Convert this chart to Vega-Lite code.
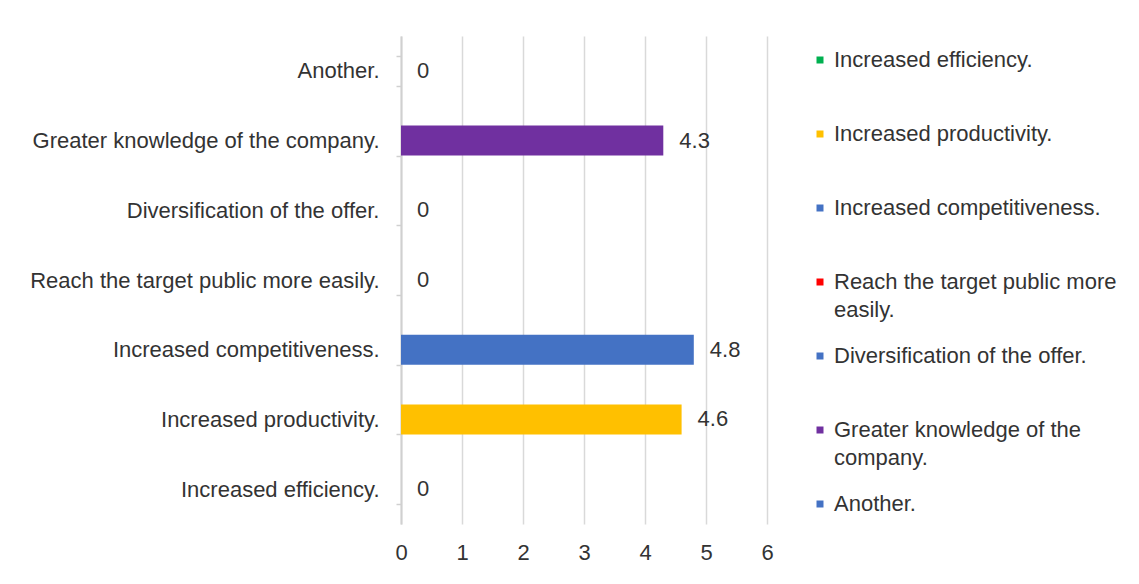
{
  "$schema": "https://vega.github.io/schema/vega-lite/v6.json",
  "width": 366,
  "height": 488,
  "autosize": "none",
  "padding": {"left": 401, "top": 36, "right": 372, "bottom": 60},
  "background": "white",
  "config": {
    "view": {"stroke": null},
    "font": "Liberation Sans",
    "axis": {"labelFont": "Liberation Sans", "labelColor": "#333333", "labelFontSize": 22},
    "style": {"guide-label": {"lineHeight": 28}}
  },
  "data": {
    "values": [
      {"category": "Increased efficiency.", "value": 0},
      {"category": "Increased productivity.", "value": 4.6},
      {"category": "Increased competitiveness.", "value": 4.8},
      {"category": "Reach the target public more easily.", "value": 0},
      {"category": "Diversification of the offer.", "value": 0},
      {"category": "Greater knowledge of the company.", "value": 4.3},
      {"category": "Another.", "value": 0}
    ]
  },
  "encoding": {
    "y": {
      "field": "category",
      "type": "nominal",
      "sort": ["Another.", "Greater knowledge of the company.", "Diversification of the offer.", "Reach the target public more easily.", "Increased competitiveness.", "Increased productivity.", "Increased efficiency."],
      "scale": {"paddingInner": 0.57, "paddingOuter": 0.285},
      "axis": {
        "title": null,
        "tickBand": "extent",
        "tickSize": 5,
        "tickColor": "#d0d0d0",
        "tickWidth": 1.5,
        "domainColor": "#d0d0d0",
        "domainWidth": 2,
        "labelPadding": 17,
        "labelLimit": 400,
        "grid": false
      }
    },
    "x": {
      "field": "value",
      "type": "quantitative",
      "scale": {"domain": [0, 6], "nice": false},
      "axis": {
        "title": null,
        "values": [0, 1, 2, 3, 4, 5, 6],
        "grid": true,
        "gridColor": "#d9d9d9",
        "gridWidth": 1.5,
        "domain": false,
        "ticks": false,
        "labelFlush": false,
        "labelPadding": 18
      }
    }
  },
  "layer": [
    {
      "mark": {"type": "bar"},
      "encoding": {
        "color": {
          "field": "category",
          "type": "nominal",
          "sort": ["Increased efficiency.", "Increased productivity.", "Increased competitiveness.", "Reach the target public more easily.", "Diversification of the offer.", "Greater knowledge of the company.", "Another."],
          "scale": {
            "domain": ["Increased efficiency.", "Increased productivity.", "Increased competitiveness.", "Reach the target public more easily.", "Diversification of the offer.", "Greater knowledge of the company.", "Another."],
            "range": ["#00B050", "#FFC000", "#4472C4", "#FF0000", "#4472C4", "#7030A0", "#4472C4"]
          },
          "legend": {
            "title": null,
            "orient": "none",
            "legendX": 408,
            "legendY": 13,
            "symbolType": "square",
            "symbolSize": 49,
            "symbolStrokeWidth": 0,
            "labelFont": "Liberation Sans",
            "labelFontSize": 22,
            "labelColor": "#333333",
            "labelOffset": 3,
            "labelLimit": 400,
            "gridAlign": "all",
            "rowPadding": 24,
            "labelExpr": "datum.label == 'Reach the target public more easily.' ? ['Reach the target public more', 'easily.'] : datum.label == 'Greater knowledge of the company.' ? ['Greater knowledge of the', 'company.'] : datum.label"
          }
        }
      }
    },
    {
      "mark": {"type": "text", "align": "left", "dx": 16, "fontSize": 22, "font": "Liberation Sans", "color": "#333333"},
      "encoding": {"text": {"field": "value", "type": "quantitative"}}
    }
  ]
}
